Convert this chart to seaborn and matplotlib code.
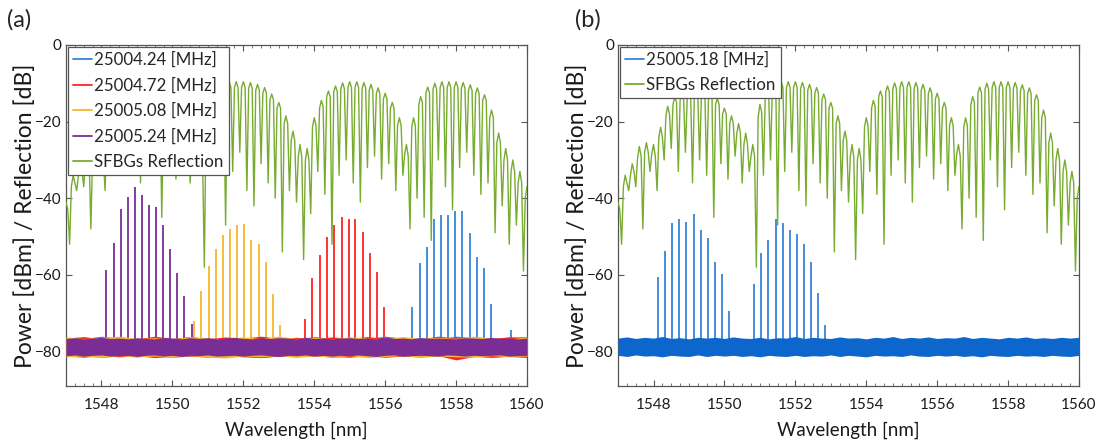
import numpy as np
import pandas as pd
import matplotlib
matplotlib.use("Agg")
import matplotlib.pyplot as plt
import seaborn as sns
from matplotlib.lines import Line2D
from matplotlib.ticker import MultipleLocator, NullLocator

# ---------------- data ----------------
x_ticks = [1548, 1550, 1552, 1554, 1556, 1558, 1560]
y_ticks = [0, -20, -40, -60, -80]

# SFBG reflection spectrum (dB), sampled every 0.05 nm from 1547 to 1560 nm
sfbg_wl = np.linspace(1547.0, 1560.0, 261)
sfbg_db = [
    -41, -43, -52, -37, -34, -36, -38, -34, -31, -33, -37, -29.5, -26.5, -29, -48, -28, -25.5, -28, -33, -28.5,
    -26, -29, -38, -24, -21.5, -24, -30, -18.5, -16, -18, -27, -15.5, -13.5, -15, -33, -14.5, -12.8, -14.3, -28, -14,
    -12.5, -14, -36, -13.5, -12, -13.5, -30, -13.5, -12, -13.5, -34, -14, -12.5, -14, -45, -15.5, -14, -15.5, -31, -18,
    -16.5, -18, -35, -20.5, -18.5, -20.5, -29, -23, -20.5, -23, -36, -26, -23, -26, -33, -29, -26, -29, -58, -19,
    -15.5, -17.5, -34, -13.5, -12, -13.5, -30, -11.7, -10.2, -11.7, -47, -11.1, -9.6, -11.1, -33, -11.1, -9.6, -11.1, -28, -11.1,
    -9.6, -11.1, -38, -11.3, -9.8, -11.3, -42, -11.8, -10.3, -11.8, -31, -12.6, -11.1, -12.6, -36, -14.3, -12.8, -14.3, -40, -16.5,
    -15, -16.5, -54, -20.5, -18.5, -20.5, -38, -25, -22.5, -25, -41, -29, -26, -29.5, -56, -30, -27, -30, -44, -21.5,
    -19, -21, -33, -16.5, -14.5, -16, -39, -13.5, -12, -13.5, -52, -12.2, -10.7, -12.2, -34, -11.4, -9.9, -11.4, -30, -11.1,
    -9.6, -11.1, -36, -11.1, -9.6, -11.1, -41, -11.3, -9.8, -11.3, -32, -11.8, -10.3, -11.8, -29, -12.7, -11.2, -12.7, -35, -14.1,
    -12.6, -14.1, -31, -16.5, -15, -16.5, -38, -21, -19, -21, -34, -28.5, -26, -29, -48, -21.5, -19, -21, -40, -15.5,
    -13.5, -15, -45, -12.5, -11, -12.5, -51, -11.5, -10, -11.5, -30, -11.1, -9.6, -11.1, -37, -11.1, -9.6, -11.1, -43, -11.1,
    -9.6, -11.1, -32, -11.3, -9.8, -11.3, -28, -11.9, -10.4, -11.9, -34, -12.7, -11.2, -12.7, -39, -14.5, -13, -14.5, -36, -19,
    -17, -19, -49, -25.5, -23, -25.5, -42, -30, -27, -30, -52, -33, -30, -33, -47, -36, -33, -36, -59, -40,
    -37,
]

# comb lines, panel (a)
blue_wl = [1556.77, 1556.97, 1557.17, 1557.37, 1557.57, 1557.78, 1557.98, 1558.18, 1558.38, 1558.59, 1558.78, 1558.98, 1559.56]
blue_db = [-68.3, -56.8, -52.8, -45.3, -44.4, -44.3, -43.3, -43.3, -49.0, -55.4, -58.3, -67.7, -74.4]
red_wl = [1553.75, 1553.95, 1554.15, 1554.36, 1554.56, 1554.77, 1554.97, 1555.16, 1555.37, 1555.58, 1555.78, 1555.98]
red_db = [-71.5, -60.7, -54.9, -50.1, -47.0, -44.8, -45.3, -45.3, -48.7, -54.3, -59.2, -68.3]
yellow_wl = [1550.61, 1550.82, 1551.03, 1551.23, 1551.42, 1551.62, 1551.82, 1552.02, 1552.22, 1552.43, 1552.63, 1552.84, 1553.04]
yellow_db = [-72.0, -64.3, -57.7, -53.2, -49.7, -48.1, -47.1, -46.6, -51.0, -52.0, -56.7, -65.1, -73.0]
purple_wl = [1548.13, 1548.34, 1548.55, 1548.74, 1548.94, 1549.14, 1549.34, 1549.54, 1549.74, 1549.94, 1550.14, 1550.34, 1550.54]
purple_db = [-58.7, -51.8, -42.7, -39.7, -37.1, -39.2, -41.7, -42.4, -47.1, -53.2, -59.6, -65.5, -72.8]

# comb lines, panel (b)
b_wl = [1548.14, 1548.33, 1548.53, 1548.73, 1548.93, 1549.13, 1549.33, 1549.54, 1549.73, 1549.93, 1550.13,
        1550.84, 1551.03, 1551.24, 1551.45, 1551.64, 1551.84, 1552.04, 1552.24, 1552.44, 1552.64, 1552.85]
b_db = [-60.5, -53.9, -46.5, -45.3, -46.3, -44.1, -48.4, -50.5, -56.6, -59.8, -69.5,
        -62.5, -54.3, -50.9, -45.5, -46.4, -48.3, -49.3, -52.0, -56.6, -64.8, -73.0]

floor_db = -78.5  # centre of the noise floor

# noise floor edges (dB)
wl_fine = np.linspace(1547.0, 1560.0, 53)
wl_coarse = np.linspace(1547.0, 1560.0, 27)
purple_hi = [-76.6, -76.4, -76.7, -76.5, -76.3, -76.6, -76.5, -76.7, -76.4, -76.6,
             -76.7, -76.4, -76.5, -76.7, -76.4, -76.6, -76.4, -76.7, -76.5, -76.3,
             -76.6, -76.7, -76.4, -76.6, -76.4, -76.5, -76.7, -76.3, -76.6, -76.5,
             -76.7, -76.5, -76.4, -76.6, -76.5, -76.7, -76.3, -76.6, -76.5, -76.7,
             -76.4, -76.6, -76.5, -76.6, -76.7, -76.4, -76.5, -76.6, -76.3, -76.6,
             -76.5, -76.7, -76.5]
purple_lo = [-81.1, -80.9, -81.2, -81.0, -80.9, -81.2, -81.1, -81.0, -81.3, -81.0,
             -80.9, -81.2, -81.0, -81.3, -81.0, -81.1, -80.9, -81.2, -81.1, -81.0,
             -81.2, -81.0, -80.9, -81.1, -81.3, -81.0, -81.1, -80.9, -81.2, -81.0,
             -81.2, -81.0, -81.1, -80.9, -81.1, -81.3, -81.0, -80.9, -81.2, -81.1,
             -81.0, -81.1, -81.2, -80.9, -81.0, -81.2, -81.0, -81.1, -81.0, -80.9,
             -81.2, -81.1, -81.0]
blue_hi = [-76.3, -76.6, -76.0, -76.5, -76.7, -76.2, -76.6, -76.1, -76.6, -76.4, -76.7, -76.2, -76.5, -76.7,
           -76.1, -76.6, -76.3, -76.6, -76.0, -76.5, -76.4, -76.7, -76.0, -76.4, -76.6, -76.2, -76.1]
blue_lo = [-81.3, -81.1, -81.5, -81.2, -81.4, -81.0, -81.5, -81.2, -81.1, -81.4, -81.2, -81.6, -81.1, -81.3,
           -81.1, -81.5, -81.2, -81.1, -81.5, -81.2, -81.4, -81.1, -81.4, -81.2, -81.5, -81.3, -81.6]
red_hi = [-76.5, -76.1, -76.7, -76.3, -76.7, -76.0, -76.6, -76.2, -76.7, -76.2, -76.5, -76.0, -76.6, -76.3,
          -76.7, -76.2, -76.6, -76.1, -76.6, -76.4, -76.7, -76.0, -76.5, -76.2, -76.6, -76.2, -76.6]
red_lo = [-81.2, -81.5, -81.1, -81.4, -81.1, -81.6, -81.3, -81.2, -81.5, -81.1, -81.4, -81.6, -81.2, -81.4,
          -81.1, -81.3, -81.5, -81.1, -81.4, -81.2, -81.4, -81.1, -82.2, -81.3, -81.5, -81.2, -81.4]
yellow_hi = [-76.2, -76.6, -76.3, -76.0, -76.6, -76.4, -76.7, -76.1, -76.5, -76.7, -76.2, -76.6, -76.0, -76.6,
             -76.3, -76.7, -76.2, -76.5, -76.7, -76.1, -76.6, -76.3, -76.6, -76.0, -76.5, -76.7, -76.2]
yellow_lo = [-81.4, -81.2, -81.6, -81.1, -81.4, -81.2, -81.5, -81.1, -81.5, -81.7, -81.2, -81.4, -81.1, -81.5,
             -81.2, -81.4, -81.1, -81.6, -81.3, -81.1, -81.5, -81.2, -81.4, -81.5, -81.1, -81.4, -81.2]
b_hi = [-76.5, -76.2, -76.6, -76.3, -76.5, -76.1, -76.6, -76.4, -76.7, -76.3,
        -76.5, -76.3, -76.6, -76.2, -76.5, -76.6, -76.3, -76.7, -76.4, -76.5,
        -76.1, -76.6, -76.3, -76.5, -76.6, -76.2, -76.5, -76.4, -76.7, -76.3,
        -76.5, -76.1, -76.6, -76.3, -76.5, -76.2, -76.6, -76.4, -76.5, -76.1,
        -76.6, -76.3, -76.5, -76.7, -76.3, -76.5, -76.2, -76.6, -76.4, -76.6,
        -76.3, -76.5, -76.3]
b_lo = [-81.0, -81.3, -80.9, -81.2, -81.1, -81.4, -81.0, -81.2, -81.3, -80.9,
        -81.3, -81.0, -81.2, -81.0, -81.3, -81.1, -81.4, -81.0, -81.2, -81.3,
        -81.0, -81.3, -81.1, -81.2, -80.9, -81.3, -81.0, -81.2, -81.4, -81.0,
        -81.2, -81.1, -81.3, -80.9, -81.2, -81.3, -81.0, -81.2, -81.0, -81.3,
        -81.1, -81.4, -81.0, -81.2, -81.3, -81.0, -81.2, -81.1, -81.3, -81.0,
        -81.2, -81.3, -81.0]

labels_a = ["25004.24 [MHz]", "25004.72 [MHz]", "25005.08 [MHz]", "25005.24 [MHz]", "SFBGs Reflection"]
labels_b = ["25005.18 [MHz]", "SFBGs Reflection"]

# ---------------- style ----------------
sns.set_theme(style="ticks")
plt.rcParams["font.family"] = ["Lato", "DejaVu Sans"]

C_BLUE = "#3584DA"
C_RED = "#FF2424"
C_YEL = "#F7B52C"
C_PUR = "#7B2D96"
C_GRN = "#77AC30"
C_BAND_B = "#0D66CC"
C_SPINE = "#555555"
C_TXT = "#1a1a1a"

fig = plt.figure(figsize=(10.97, 4.47), dpi=100)
axA = fig.add_axes([0.0602, 0.1365, 0.4202, 0.7629])
axB = fig.add_axes([0.5634, 0.1365, 0.4202, 0.7629])

sfbg = pd.DataFrame({"wl": sfbg_wl, "db": sfbg_db})

# panel (a)
series_a = [
    (blue_wl, blue_db, blue_hi, blue_lo, C_BLUE),
    (red_wl, red_db, red_hi, red_lo, C_RED),
    (yellow_wl, yellow_db, yellow_hi, yellow_lo, C_YEL),
    (purple_wl, purple_db, purple_hi, purple_lo, C_PUR),
]
for wl, db, hi, lo, c in series_a:
    axA.vlines(wl, floor_db, db, color=c, lw=1.3, zorder=2)
for wl, db, hi, lo, c in series_a:
    xs = wl_fine if len(hi) == len(wl_fine) else wl_coarse
    axA.fill_between(xs, lo, hi, color=c, lw=0, zorder=3)

# panel (b)
axB.vlines(b_wl, floor_db, b_db, color=C_BLUE, lw=1.3, zorder=2)
axB.fill_between(wl_fine, b_lo, b_hi, color=C_BAND_B, lw=0, zorder=3)

for ax in (axA, axB):
    sns.lineplot(data=sfbg, x="wl", y="db", ax=ax, color=C_GRN, lw=1.0,
                 estimator=None, sort=False, legend=False, zorder=4)
    ax.set_xlim(1547, 1560)
    ax.set_ylim(-89, 0)
    ax.set_xticks(x_ticks)
    ax.set_yticks(y_ticks)
    ax.xaxis.set_minor_locator(MultipleLocator(0.25))
    ax.yaxis.set_minor_locator(NullLocator())
    ax.tick_params(which="both", direction="in", top=True, right=True,
                   color=C_SPINE, labelcolor=C_TXT)
    ax.tick_params(which="major", length=4, width=0.8, labelsize=11)
    ax.tick_params(axis="x", which="major", pad=9)
    ax.tick_params(axis="y", which="major", pad=3)
    ax.tick_params(which="minor", length=2, width=0.6)
    for s in ax.spines.values():
        s.set_color(C_SPINE)
        s.set_linewidth(0.9)
        s.set_visible(True)
    ax.set_xlabel("Wavelength [nm]", fontsize=13.5, color=C_TXT)
    ax.set_ylabel("Power [dBm] / Reflection [dB]", fontsize=16.5, color=C_TXT)
    ax.xaxis.set_label_coords(0.5, -0.105)
    ax.yaxis.set_label_coords(-0.066, 0.5)
    ax.xaxis.label.set_va("top")

leg_kw = dict(loc="upper left", fontsize=12.2, frameon=True, fancybox=False,
              edgecolor="#555555", framealpha=1, borderaxespad=0.1,
              handlelength=1.15, handletextpad=0.12, labelspacing=0.55, borderpad=0.3)
hA = [Line2D([], [], color=c, lw=1.3) for c in (C_BLUE, C_RED, C_YEL, C_PUR, C_GRN)]
legA = axA.legend(hA, labels_a, **leg_kw)
hB = [Line2D([], [], color=c, lw=1.3) for c in (C_BLUE, C_GRN)]
legB = axB.legend(hB, labels_b, **leg_kw)
for lg in (legA, legB):
    lg.get_frame().set_linewidth(0.9)
    lg.set_zorder(10)

fig.text(0.0064, 0.955, "(a)", fontsize=17, va="center", ha="left")
fig.text(0.524, 0.955, "(b)", fontsize=17, va="center", ha="left")

fig.savefig("out.png", dpi=100)
